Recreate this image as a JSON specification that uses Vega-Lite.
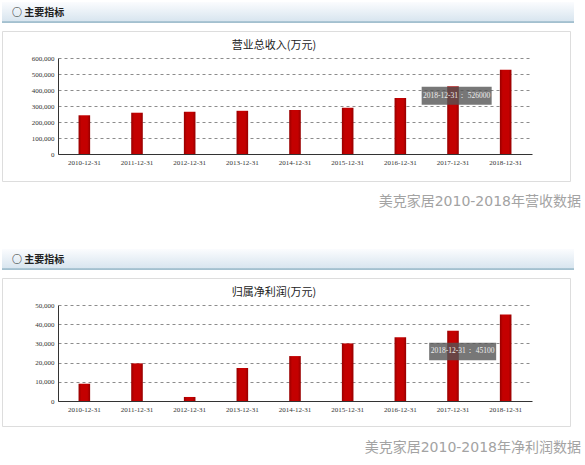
{
  "$schema": "https://vega.github.io/schema/vega-lite/v6.json",
  "background": "white",
  "padding": {"left": 1, "top": 2, "right": 0, "bottom": 0},
  "spacing": 40,
  "config": {
    "font": "Noto Sans CJK SC",
    "axis": {
      "title": null,
      "ticks": false,
      "labelFont": "Liberation Serif",
      "labelFontSize": 7,
      "labelColor": "#333333",
      "domainColor": "#333333",
      "labelOverlap": false
    }
  },
  "datasets": {
    "revenue": [
      {"date": "2010-12-31", "value": 242000},
      {"date": "2011-12-31", "value": 258000},
      {"date": "2012-12-31", "value": 264000},
      {"date": "2013-12-31", "value": 270000},
      {"date": "2014-12-31", "value": 275000},
      {"date": "2015-12-31", "value": 289000},
      {"date": "2016-12-31", "value": 350000},
      {"date": "2017-12-31", "value": 423000},
      {"date": "2018-12-31", "value": 526000}
    ],
    "revenue_tip": [
      {"date": "2018-12-31", "value": 526000, "label": "2018-12-31： 526000"}
    ],
    "profit": [
      {"date": "2010-12-31", "value": 9000},
      {"date": "2011-12-31", "value": 19600},
      {"date": "2012-12-31", "value": 2100},
      {"date": "2013-12-31", "value": 17200},
      {"date": "2014-12-31", "value": 23400},
      {"date": "2015-12-31", "value": 30000},
      {"date": "2016-12-31", "value": 33200},
      {"date": "2017-12-31", "value": 36600},
      {"date": "2018-12-31", "value": 45100}
    ],
    "profit_tip": [
      {"date": "2018-12-31", "value": 45100, "label": "2018-12-31： 45100"}
    ],
    "section": [
      {"name": "主要指标"}
    ]
  },
  "vconcat": [
    {
      "title": {
        "text": "美克家居2010-2018年营收数据",
        "orient": "bottom",
        "anchor": "end",
        "font": "DejaVu Sans, Noto Sans CJK SC",
        "fontSize": 14,
        "fontWeight": "normal",
        "color": "#a3a3a3",
        "offset": 13,
        "dx": 7
      },
      "spacing": 7,
      "vconcat": [
        {
          "width": 572,
          "height": 21,
          "view": {"stroke": null},
          "title": {
            "text": "○ 主要指标",
            "anchor": "start",
            "frame": "group",
            "offset": -16,
            "dx": 10,
            "fontSize": 10,
            "fontWeight": "bold",
            "color": "#222222"
          },
          "data": {"name": "section"},
          "mark": {
            "type": "rect",
            "fill": {
              "gradient": "linear", "x1": 0, "y1": 0, "x2": 0, "y2": 1,
              "stops": [
                {"offset": 0, "color": "#fbfcfe"},
                {"offset": 0.92, "color": "#d8e5ef"},
                {"offset": 0.93, "color": "#a3c0cf"},
                {"offset": 1, "color": "#a3c0cf"}
              ]
            }
          }
        },
        {
          "width": 568,
          "height": 150,
          "view": {"stroke": "#dddddd"},
          "title": {
            "text": "营业总收入(万元)",
            "frame": "group",
            "anchor": "middle",
            "offset": -20,
            "dx": -12,
            "fontSize": 11,
            "fontWeight": "normal",
            "color": "#222222"
          },
          "data": {"name": "revenue"},
          "encoding": {
            "x": {
              "field": "date",
              "type": "nominal",
              "sort": null,
              "scale": {"range": [56, 530], "paddingInner": 0.78, "paddingOuter": 0.39},
              "axis": {"labelAngle": 0, "offset": -27, "labelPadding": 4}
            },
            "y": {
              "field": "value",
              "type": "quantitative",
              "scale": {"domain": [0, 600000], "range": [123, 27]},
              "axis": {
                "offset": -56,
                "values": [0, 100000, 200000, 300000, 400000, 500000, 600000],
                "format": ",d",
                "labelPadding": 4,
                "grid": true,
                "gridDash": [3, 3],
                "gridColor": "#8c8c8c"
              }
            }
          },
          "layer": [
            {
              "mark": {
                "type": "bar",
                "fill": {
                  "gradient": "linear", "x1": 0, "y1": 0, "x2": 1, "y2": 0,
                  "stops": [
                    {"offset": 0, "color": "#960000"},
                    {"offset": 0.25, "color": "#c40000"},
                    {"offset": 0.75, "color": "#c40000"},
                    {"offset": 1, "color": "#960000"}
                  ]
                }
              }
            },
            {
              "data": {"name": "revenue_tip"},
              "mark": {
                "type": "point",
                "shape": "M-1,-0.257L1,-0.257L1,0.257L-1,0.257Z",
                "size": 4900,
                "filled": true,
                "fill": "#555555",
                "opacity": 0.8,
                "strokeWidth": 0,
                "xOffset": -49,
                "yOffset": 26
              }
            },
            {
              "data": {"name": "revenue_tip"},
              "mark": {
                "type": "text",
                "font": "Liberation Serif",
                "fontSize": 7.5,
                "color": "#eeeeee",
                "xOffset": -49,
                "yOffset": 26
              },
              "encoding": {"text": {"field": "label"}}
            }
          ]
        }
      ]
    },
    {
      "title": {
        "text": "美克家居2010-2018年净利润数据",
        "orient": "bottom",
        "anchor": "end",
        "font": "DejaVu Sans, Noto Sans CJK SC",
        "fontSize": 14,
        "fontWeight": "normal",
        "color": "#a3a3a3",
        "offset": 14,
        "dx": 7
      },
      "spacing": 7,
      "vconcat": [
        {
          "width": 572,
          "height": 21,
          "view": {"stroke": null},
          "title": {
            "text": "○ 主要指标",
            "anchor": "start",
            "frame": "group",
            "offset": -16,
            "dx": 10,
            "fontSize": 10,
            "fontWeight": "bold",
            "color": "#222222"
          },
          "data": {"name": "section"},
          "mark": {
            "type": "rect",
            "fill": {
              "gradient": "linear", "x1": 0, "y1": 0, "x2": 0, "y2": 1,
              "stops": [
                {"offset": 0, "color": "#fbfcfe"},
                {"offset": 0.92, "color": "#d8e5ef"},
                {"offset": 0.93, "color": "#a3c0cf"},
                {"offset": 1, "color": "#a3c0cf"}
              ]
            }
          }
        },
        {
          "width": 568,
          "height": 148,
          "view": {"stroke": "#dddddd"},
          "title": {
            "text": "归属净利润(万元)",
            "frame": "group",
            "anchor": "middle",
            "offset": -20,
            "dx": -12,
            "fontSize": 11,
            "fontWeight": "normal",
            "color": "#222222"
          },
          "data": {"name": "profit"},
          "encoding": {
            "x": {
              "field": "date",
              "type": "nominal",
              "sort": null,
              "scale": {"range": [56, 530], "paddingInner": 0.78, "paddingOuter": 0.39},
              "axis": {"labelAngle": 0, "offset": -25, "labelPadding": 4}
            },
            "y": {
              "field": "value",
              "type": "quantitative",
              "scale": {"domain": [0, 50000], "range": [123, 27]},
              "axis": {
                "offset": -56,
                "values": [0, 10000, 20000, 30000, 40000, 50000],
                "format": ",d",
                "labelPadding": 4,
                "grid": true,
                "gridDash": [3, 3],
                "gridColor": "#8c8c8c"
              }
            }
          },
          "layer": [
            {
              "mark": {
                "type": "bar",
                "fill": {
                  "gradient": "linear", "x1": 0, "y1": 0, "x2": 1, "y2": 0,
                  "stops": [
                    {"offset": 0, "color": "#960000"},
                    {"offset": 0.25, "color": "#c40000"},
                    {"offset": 0.75, "color": "#c40000"},
                    {"offset": 1, "color": "#960000"}
                  ]
                }
              }
            },
            {
              "data": {"name": "profit_tip"},
              "mark": {
                "type": "point",
                "shape": "M-1,-0.261L1,-0.261L1,0.261L-1,0.261Z",
                "size": 4489,
                "filled": true,
                "fill": "#555555",
                "opacity": 0.8,
                "strokeWidth": 0,
                "xOffset": -43,
                "yOffset": 37
              }
            },
            {
              "data": {"name": "profit_tip"},
              "mark": {
                "type": "text",
                "font": "Liberation Serif",
                "fontSize": 7.5,
                "color": "#eeeeee",
                "xOffset": -43,
                "yOffset": 37
              },
              "encoding": {"text": {"field": "label"}}
            }
          ]
        }
      ]
    }
  ]
}
